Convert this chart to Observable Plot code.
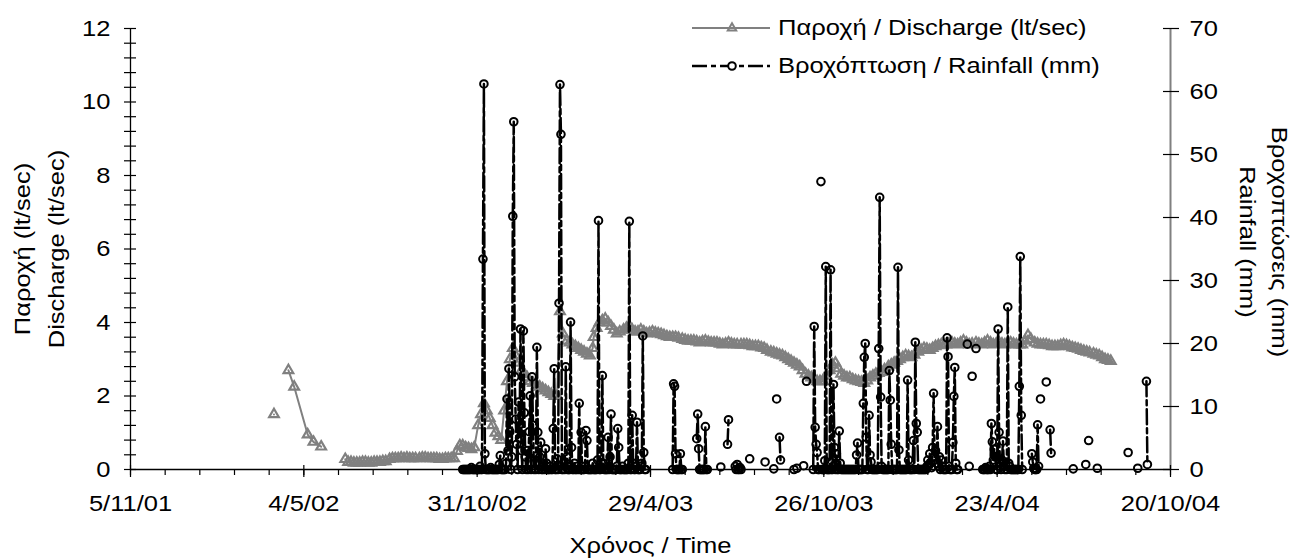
<!DOCTYPE html>
<html>
<head>
<meta charset="utf-8">
<script src="https://cdn.jsdelivr.net/npm/d3@7"></script>
<script src="https://cdn.jsdelivr.net/npm/@observablehq/plot@0.6"></script>
<style>
  body { margin: 0; background: #fff; }
  #wrap { position: relative; width: 1292px; height: 558px; font-family: "Liberation Sans", Arial, sans-serif; }
  #legend { position: absolute; left: 688px; top: 9px; font-size: 22px; color: #000; }
  #legend .row { display: flex; align-items: center; height: 38px; white-space: nowrap; }
  #legend svg { display: block; margin-right: 6px; }
  #legend span { display: inline-block; transform: scaleX(1.16); transform-origin: left center; }
</style>
</head>
<body>
<div id="wrap">
  <div id="legend">
    <div class="row">
      <svg width="84" height="38"><line x1="4" x2="82" y1="19" y2="19" stroke="#808080" stroke-width="2"/><path d="M44,14.2 L48.2,21.4 L39.8,21.4 Z" fill="none" stroke="#808080" stroke-width="2"/></svg>
      <span>Παροχή / Discharge (lt/sec)</span>
    </div>
    <div class="row">
      <svg width="84" height="38"><line x1="4" x2="82" y1="19" y2="19" stroke="#000" stroke-width="2.5" stroke-dasharray="15,4,5,4"/><circle cx="44" cy="19" r="3.8" fill="#fff" stroke="#000" stroke-width="2"/></svg>
      <span>Βροχόπτωση / Rainfall (mm)</span>
    </div>
  </div>
</div>
<script>
// ---- Time axis -------------------------------------------------------------
const axisStart = "2001-11-05";
const axisEnd = "2004-10-20";
const dateTicks = ["2001-11-05", "2002-05-04", "2002-10-31", "2003-04-29", "2003-10-26", "2004-04-23", "2004-10-20"];

// ---- Value axes ------------------------------------------------------------
const dischargeTicks = [0, 2, 4, 6, 8, 10, 12];
const rainfallTicks = [0, 10, 20, 30, 40, 50, 60, 70];
const dischargeMax = 12;
const rainfallMax = 70;

// ---- Discharge (lt/sec) ----------------------------------------------------
// spring 2002 readings; null marks a gap in the record
const dischargeEarlyDates = ["2002-04-03", "2002-04-10", "2002-04-18", "2002-04-24", "2002-05-08", "2002-05-14", "2002-05-22"];
const dischargeEarlyValues = [1.5, null, 2.7, 2.25, 0.95, 0.75, 0.62];

// continuous record from June 2002, read on these days of each month
const dischargeDays = [1, 4, 7, 10, 13, 16, 19, 22, 25, 28];
const dischargeMonths = [
  ["2002-06", [null, null, null, null, null, 0.28, 0.2, 0.2, 0.18, 0.18]],
  ["2002-07", [0.18, 0.2, 0.2, 0.18, 0.18, 0.2, 0.2, 0.2, 0.22, 0.22]],
  ["2002-08", [0.28, 0.3, 0.3, 0.3, 0.32, 0.3, 0.32, 0.3, 0.3, 0.3]],
  ["2002-09", [0.3, 0.32, 0.32, 0.3, 0.3, 0.3, 0.3, 0.28, 0.28, 0.3]],
  ["2002-10", [0.3, 0.3, 0.3, 0.5, 0.65, 0.65, 0.6, 0.58, 0.55, 0.6]],
  ["2002-11", [1.2, 1.5, 1.8, 1.6, 1.4, 1.2, 1.0, 0.9, 0.8, 1.6]],
  ["2002-12", [2.4, 3.0, 3.3, 3.1, 2.9, 2.7, 2.6, 2.5, 2.4, 2.35]],
  ["2003-01", [2.3, 2.25, 2.2, 2.15, 2.1, 2.05, 2.0, 2.0, 4.3, 3.7]],
  ["2003-02", [3.5, 3.45, 3.4, 3.35, 3.3, 3.25, 3.2, 3.15, 3.1, 3.3]],
  ["2003-03", [3.6, 3.85, 4.0, 4.05, 4.1, 4.0, 3.9, 3.8, 3.7, 3.75]],
  ["2003-04", [3.8, 3.85, 3.9, 3.8, 3.75, 3.75, 3.8, 3.75, 3.7, 3.72]],
  ["2003-05", [3.75, 3.72, 3.7, 3.68, 3.65, 3.62, 3.6, 3.6, 3.6, 3.58]],
  ["2003-06", [3.55, 3.52, 3.5, 3.5, 3.5, 3.48, 3.45, 3.48, 3.5, 3.47]],
  ["2003-07", [3.45, 3.45, 3.45, 3.42, 3.4, 3.42, 3.45, 3.42, 3.4, 3.4]],
  ["2003-08", [3.4, 3.4, 3.4, 3.38, 3.35, 3.35, 3.35, 3.32, 3.3, 3.25]],
  ["2003-09", [3.2, 3.18, 3.15, 3.12, 3.1, 3.05, 3.0, 2.95, 2.9, 2.85]],
  ["2003-10", [2.8, 2.7, 2.6, 2.55, 2.5, 2.45, 2.4, 2.4, 2.4, 2.55]],
  ["2003-11", [2.7, 2.85, 2.9, 2.75, 2.6, 2.55, 2.5, 2.5, 2.45, 2.42]],
  ["2003-12", [2.4, 2.38, 2.35, 2.42, 2.5, 2.55, 2.6, 2.62, 2.65, 2.72]],
  ["2004-01", [2.8, 2.85, 2.9, 2.95, 3.0, 3.05, 3.1, 3.08, 3.05, 3.12]],
  ["2004-02", [3.2, 3.25, 3.3, 3.28, 3.25, 3.3, 3.35, 3.38, 3.4, 3.4]],
  ["2004-03", [3.4, 3.42, 3.45, 3.42, 3.4, 3.45, 3.5, 3.45, 3.4, 3.42]],
  ["2004-04", [3.45, 3.42, 3.4, 3.45, 3.5, 3.45, 3.4, 3.42, 3.45, 3.42]],
  ["2004-05", [3.4, 3.42, 3.45, 3.42, 3.4, 3.4, 3.4, 3.5, 3.65, 3.55]],
  ["2004-06", [3.45, 3.42, 3.4, 3.4, 3.4, 3.38, 3.35, 3.35, 3.35, 3.38]],
  ["2004-07", [3.4, 3.38, 3.35, 3.32, 3.3, 3.28, 3.25, 3.22, 3.2, 3.18]],
  ["2004-08", [3.15, 3.12, 3.1, 3.05, 3.0, 2.98, 2.95, null, null, null]]
];

// ---- Daily rainfall (mm): each entry is a first day and the consecutive daily totals
const rainfallRuns = [
  ["2002-10-16", [
    0, 0, 0, 0, 0, 0, 0, 0, 0, 0.3,
    0, 0, 0, 0, 0, 0, 0, 0, 0.5, 0,
    0, 33.4, 61.2, 2.5, 0, 0, 0, 0, 0, 0.3,
    0, 0, 0, 0, 0, 0, 0, 0, 0.8, 2.2,
    0, 0, 0, 0, 0, 1.0, 11.2, 3.0, 16, 6.0,
    0, 2.0, 40.2, 55.2, 14.7, 8.0, 4.0, 0, 10.7, 5.0,
    22.3, 3.0, 0, 22, 9.0, 2.0, 0, 3.0, 0, 6.0,
    11.7, 0, 14.7, 7.0, 0, 1.0, 0, 19.4, 5.9, 0,
    2.0, 4.3, 0, 0, 1.0, 0, 3.3, 1.0, 0, 0,
    0, 0.5, 0, 0, 6.5, 16, 0, 0, 1.7, 0,
    26.4, 61.1, 53.2, 0, 0, 1.0, 0, 16.3, 2.0, 0,
    0, 0, 23.4, 3.5, 0, 0, 1.0, 0, 0, 0.5,
    0, 10.5, 0, 5.9, 0, 0, 0, 0.5, 6.2, 4.6,
    0, 0, 0, 0, 0, 1.0, 0, 0, 0, 0,
    1.5, 39.5, 0, 0, 1.0, 14.9, 1.0, 0, 0, 0,
    0, 5.1, 0, 2.0, 8.8, 0, 0, 0, 0, 0,
    0.5, 6.5, 3.5, 0, 0, 0, 0.5, 0, 0, 0,
    0, 0, 1.0, 39.4, 0, 0, 8.6, 1.0, 0, 0,
    0.5, 7.5, 0, 0, 0, 0.5, 1.0, 21.2, 2.7, 0, 0
  ]],
  ["2003-05-22", [0, 13.6, 13.2, 2.5, 0, 0, 0, 0, 2.5, 0, 0]],
  ["2003-06-16", [4.9, 8.8, 3.3, 0, 0, 0, 0, 0, 0, 6.8, 0, 0]],
  ["2003-07-11", [0.4]],
  ["2003-07-18", [4.0, 7.9]],
  ["2003-07-26", [0.5, 0, 0.8, 0, 0, 0.3, 0]],
  ["2003-08-10", [1.7]],
  ["2003-08-26", [1.2]],
  ["2003-09-04", [0.1]],
  ["2003-09-07", [11.2]],
  ["2003-09-10", [5.1, 1.5]],
  ["2003-09-25", [0]],
  ["2003-09-28", [0.2]],
  ["2003-10-05", [0.6]],
  ["2003-10-08", [14.0]],
  ["2003-10-15", [0, 22.7, 6.7, 4.0, 2.7, 0, 0]],
  ["2003-10-23", [45.7]],
  ["2003-10-24", [
    0, 0, 0, 1.4, 32.2, 0, 0, 0, 0, 31.7,
    0, 0, 13.5, 3.5, 0, 2.5, 0, 0, 6.1, 1.0,
    0, 0, 0, 0, 0, 0, 0, 0, 0, 0,
    0, 0, 0, 0, 0, 0, 2.3, 4.2, 0, 0,
    0, 0, 0, 10.5, 17.8, 20.0, 5.1, 0, 0, 8.6,
    2.3, 1.2, 0, 0, 0, 0, 0, 0, 0, 19.2,
    43.2, 11.5, 0.5, 0, 0, 0, 0, 0, 0, 0,
    15.7, 11, 4, 0, 0, 0, 0, 0, 0, 32.1,
    3.1, 0, 0, 0, 0, 0, 0, 0, 0, 14.2,
    1.5, 0, 0, 0, 0, 4.6, 0, 20.2, 7.3, 5.9,
    0, 0, 0, 0, 0, 0, 0, 0, 0, 0.5,
    1.5, 0.8, 2.5, 1, 0.3, 3.5, 12.1, 2, 3, 1,
    6.8, 0.5, 2, 0, 1.5, 0.5, 0, 0, 0, 0,
    20.9, 17.9, 0.5, 0, 0, 0, 4.3, 11.6, 16.2, 1.0,
    0, 0
  ]],
  ["2004-03-23", [19.9]],
  ["2004-03-25", [0.5]],
  ["2004-03-28", [14.8]],
  ["2004-04-01", [19.2]],
  ["2004-04-08", [
    0, 0, 0, 0.3, 0, 0, 0, 0.5, 0, 7.3,
    4.4, 1.5, 3.2, 2.0, 0, 0, 22.3, 5.9, 0.5, 0,
    1.5, 4.5, 0.5, 0, 1, 0, 25.8, 1, 0.5, 0,
    0, 0, 0, 0, 0, 0, 0, 0, 13.2, 33.8,
    8.6, 0
  ]],
  ["2004-05-29", [2.5, 1.2, 0.2, 0, 0, 0, 7.1, 0.5]],
  ["2004-06-07", [11.2]],
  ["2004-06-13", [13.9]],
  ["2004-06-17", [6.3, 2.6]],
  ["2004-07-11", [0.1]],
  ["2004-07-24", [0.8]],
  ["2004-07-27", [4.6]],
  ["2004-08-05", [0.2]],
  ["2004-09-06", [2.7]],
  ["2004-09-16", [0.2]],
  ["2004-09-25", [14.0, 0.8]]
];

// ---- Derived tables ----------------------------------------------------------
const parse = (s) => new Date(s + "T00:00:00Z");
const pad = (n) => String(n).padStart(2, "0");
const t0 = parse(axisStart);
const t1 = parse(axisEnd);
const fmtDate = d3.utcFormat("%-d/%-m/%y");

const discharge = [
  ...dischargeEarlyDates.map((d, i) => ({date: parse(d), q: dischargeEarlyValues[i]})),
  ...dischargeMonths.flatMap(([month, values]) =>
    values.map((q, i) => ({date: parse(`${month}-${pad(dischargeDays[i])}`), q})))
];
const rainfall = rainfallRuns.flatMap(([first, values], run) =>
  values.map((mm, i) => ({date: d3.utcDay.offset(parse(first), i), mm, run}))
);

// rainfall shares the frame with discharge: 70 mm on the right = 12 lt/sec on the left
const toLeft = (mm) => mm * dischargeMax / rainfallMax;

const majorX = dateTicks.map(parse);
const minorX = d3.utcDay.range(t0, d3.utcDay.offset(t1, 1), 1).filter((d, i) => i % 36 === 0);
const minorY = d3.range(0, dischargeMax + 0.001, 0.4).map((v) => +v.toFixed(1));

const GREY = "#808080";
const TEXT_WIDTH = 1.16; // the lettering is set slightly wide

const chart = Plot.plot({
  width: 1292,
  height: 558,
  marginLeft: 130,
  marginRight: 122,
  marginTop: 28,
  marginBottom: 89,
  style: {
    fontFamily: '"Liberation Sans", Arial, sans-serif',
    fontSize: "22px",
    color: "#000",
    background: "transparent",
    overflow: "visible"
  },
  x: {type: "utc", domain: [t0, t1]},
  y: {domain: [0, dischargeMax]},
  marks: [
    // discharge series
    Plot.line(discharge, {x: "date", y: "q", stroke: GREY, strokeWidth: 2}),
    Plot.dot(discharge, {x: "date", y: "q", symbol: "triangle", r: 3.6, stroke: GREY, strokeWidth: 2.2, fill: "none"}),

    // rainfall series
    Plot.line(rainfall, {x: "date", y: (d) => toLeft(d.mm), z: "run", stroke: "#000", strokeWidth: 2.5, strokeDasharray: "15,4,5,4"}),
    Plot.dot(rainfall, {x: "date", y: (d) => toLeft(d.mm), r: 3.8, stroke: "#000", strokeWidth: 2, fill: "none"}),

    // axis lines
    Plot.ruleY([0], {stroke: "#000", strokeWidth: 1.3}),
    Plot.ruleX([t0], {stroke: "#000", strokeWidth: 1.3}),
    Plot.ruleX([t1], {stroke: GREY, strokeWidth: 2}),

    // left axis: crossing ticks and labels
    Plot.axisY(minorY, {anchor: "left", tickSize: 12, dx: 6, fill: "none", label: null, strokeWidth: 1.2}),
    Plot.axisY(dischargeTicks, {anchor: "left", tickSize: 0, tickPadding: 20, label: null}),

    // right axis (rainfall)
    Plot.axisY(rainfallTicks.map(toLeft), {anchor: "right", tickSize: 16, dx: -8, fill: "none", label: null, strokeWidth: 1.2}),
    Plot.axisY(rainfallTicks.map(toLeft), {anchor: "right", tickSize: 0, tickPadding: 19, label: null,
      tickFormat: (v) => Math.round(v * rainfallMax / dischargeMax)}),

    // time axis
    Plot.axisX(majorX, {anchor: "bottom", tickSize: 12, dy: -4, fill: "none", label: null, strokeWidth: 1.2}),
    Plot.axisX(minorX, {anchor: "bottom", tickSize: 6, fill: "none", label: null, strokeWidth: 1.2}),
    Plot.axisX(majorX, {anchor: "bottom", tickSize: 0, tickPadding: 26, tickFormat: fmtDate, label: null}),

    // axis titles
    Plot.text(["Παροχή (lt/sec)"], {frameAnchor: "left", dx: -107.5, rotate: -90, textAnchor: "middle", lineAnchor: "middle", fill: "#000"}),
    Plot.text(["Discharge (lt/sec)"], {frameAnchor: "left", dx: -74, rotate: -90, textAnchor: "middle", lineAnchor: "middle", fill: "#000"}),
    Plot.text(["Βροχοπτώσεις (mm)"], {frameAnchor: "right", dx: 109, dy: -7, rotate: 90, textAnchor: "middle", lineAnchor: "middle", fill: "#000"}),
    Plot.text(["Rainfall (mm)"], {frameAnchor: "right", dx: 76.5, dy: -7, rotate: 90, textAnchor: "middle", lineAnchor: "middle", fill: "#000"}),
    Plot.text(["Χρόνος / Time"], {frameAnchor: "bottom", dy: 76, textAnchor: "middle", lineAnchor: "middle", fill: "#000"})
  ]
});

document.getElementById("wrap").prepend(chart);

// widen every label along its own baseline
chart.querySelectorAll("text").forEach((t) => {
  const spans = t.querySelectorAll("tspan");
  (spans.length ? Array.from(spans) : [t]).forEach((el) => {
    const len = el.getComputedTextLength();
    if (len > 0) {
      el.setAttribute("textLength", (len * TEXT_WIDTH).toFixed(2));
      el.setAttribute("lengthAdjust", "spacingAndGlyphs");
    }
  });
});
</script>
</body>
</html>
